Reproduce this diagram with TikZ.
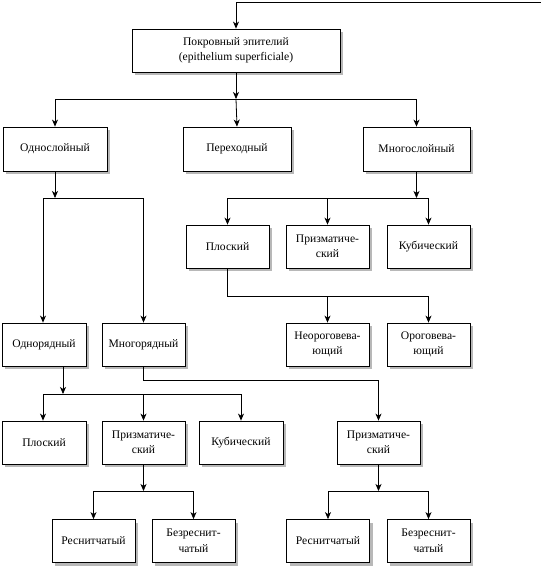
\documentclass[tikz,border=0pt]{standalone}
\usepackage{fontspec}
\setmainfont{Liberation Serif}
\usetikzlibrary{arrows.meta,shadows}
\begin{document}
\begin{tikzpicture}[x=1pt,y=-1pt,
 box/.style={draw,line width=0.8pt,fill=white,minimum width=83pt,minimum height=43pt,align=center,inner sep=2pt,
   font=\fontsize{11.6}{15.5}\selectfont,
   drop shadow={shadow xshift=3pt,shadow yshift=-3pt,fill=black!28,opacity=1}},
 conn/.style={line width=0.8pt},
 arr/.style={conn,-{Stealth[length=7pt,width=6pt,inset=2pt]}}]
\useasboundingbox (0,0) rectangle (541,566);
% nodes
\node[box,minimum width=208pt] (main) at (236,50.5) {Покровный эпителий\\(epithelium superficiale)};
\node[box,minimum width=104pt,minimum height=44pt] (odnosl) at (55,149) {Однослойный};
\node[box,minimum width=108pt,minimum height=44pt] (perehod) at (237,149) {Переходный};
\node[box,minimum width=107pt,minimum height=44pt] (mnogosl) at (416.5,149) {Многослойный};
\node[box] (ploskR) at (227.5,246.5) {Плоский};
\node[box] (prizmR) at (327.5,246.5) {Призматиче-\\ский};
\node[box] (kubR) at (428.5,246.5) {Кубический};
\node[box,minimum width=84pt] (odnor) at (44,344.5) {Однорядный};
\node[box] (mnogor) at (143.5,344.5) {Многорядный};
\node[box] (neorog) at (327.5,344.5) {Неороговева-\\ющий};
\node[box] (orog) at (428.5,344.5) {Ороговева-\\ющий};
\node[box,minimum width=84pt] (ploskL) at (44,442.5) {Плоский};
\node[box] (prizmL) at (143.5,442.5) {Призматиче-\\ский};
\node[box,minimum width=84pt] (kubL) at (241,442.5) {Кубический};
\node[box] (prizmM) at (378.5,442.5) {Призматиче-\\ский};
\node[box] (resnL) at (93.5,541) {Реснитчатый};
\node[box] (bezL) at (193.5,541) {Безреснит-\\чатый};
\node[box] (resnR) at (328,541) {Реснитчатый};
\node[box] (bezR) at (428.5,541) {Безреснит-\\чатый};
% junction coordinates
\coordinate (in) at (541,2);
\coordinate (inc) at (236,2);
\coordinate (j1) at (236,99);
\coordinate (j1l) at (55,99);
\coordinate (j1r) at (416.5,99);
\coordinate (j2) at (55,198);
\coordinate (j2l) at (43,198);
\coordinate (j2r) at (143.5,198);
\coordinate (j3) at (416.5,198);
\coordinate (j3l) at (227.5,198);
\coordinate (j3m) at (327.5,198);
\coordinate (j3r) at (428.5,198);
\coordinate (j4) at (227.5,296);
\coordinate (j4m) at (327.5,296);
\coordinate (j4r) at (428.5,296);
\coordinate (j5s) at (63,366);
\coordinate (j5) at (63,394);
\coordinate (j5l) at (43,394);
\coordinate (j5m) at (143.5,394);
\coordinate (j5r) at (241,394);
\coordinate (j6) at (143.5,380);
\coordinate (j6r) at (378.5,380);
\coordinate (j7) at (143.5,491);
\coordinate (j7l) at (93.5,491);
\coordinate (j7r) at (193.5,491);
\coordinate (j8) at (378.5,491);
\coordinate (j8l) at (328,491);
\coordinate (j8r) at (428.5,491);
% connectors
\draw[conn] (in) -- (inc);
\draw[arr] (inc) -- (main.north);
\draw[arr] (main.south) -- (j1);
\draw[conn] (j1l) -- (j1r);
\draw[arr] (j1l) -- (odnosl.north);
\draw[arr] (j1) -- (perehod.north);
\draw[arr] (j1r) -- (mnogosl.north);
\draw[arr] (odnosl.south) -- (j2);
\draw[conn] (j2l) -- (j2r);
\draw[arr] (j2l) -- (odnor.north -| j2l);
\draw[arr] (j2r) -- (mnogor.north);
\draw[arr] (mnogosl.south) -- (j3);
\draw[conn] (j3l) -- (j3r);
\draw[arr] (j3l) -- (ploskR.north);
\draw[arr] (j3m) -- (prizmR.north);
\draw[arr] (j3r) -- (kubR.north);
\draw[conn] (ploskR.south) -- (j4) -- (j4r);
\draw[arr] (j4m) -- (neorog.north);
\draw[arr] (j4r) -- (orog.north);
\draw[arr] (odnor.south -| j5s) -- (j5);
\draw[conn] (j5l) -- (j5r);
\draw[arr] (j5l) -- (ploskL.north -| j5l);
\draw[arr] (j5m) -- (prizmL.north);
\draw[arr] (j5r) -- (kubL.north);
\draw[conn] (mnogor.south) -- (j6) -- (j6r);
\draw[arr] (j6r) -- (prizmM.north);
\draw[arr] (prizmL.south) -- (j7);
\draw[conn] (j7l) -- (j7r);
\draw[arr] (j7l) -- (resnL.north);
\draw[arr] (j7r) -- (bezL.north);
\draw[arr] (prizmM.south) -- (j8);
\draw[conn] (j8l) -- (j8r);
\draw[arr] (j8l) -- (resnR.north);
\draw[arr] (j8r) -- (bezR.north);
\end{tikzpicture}
\end{document}
